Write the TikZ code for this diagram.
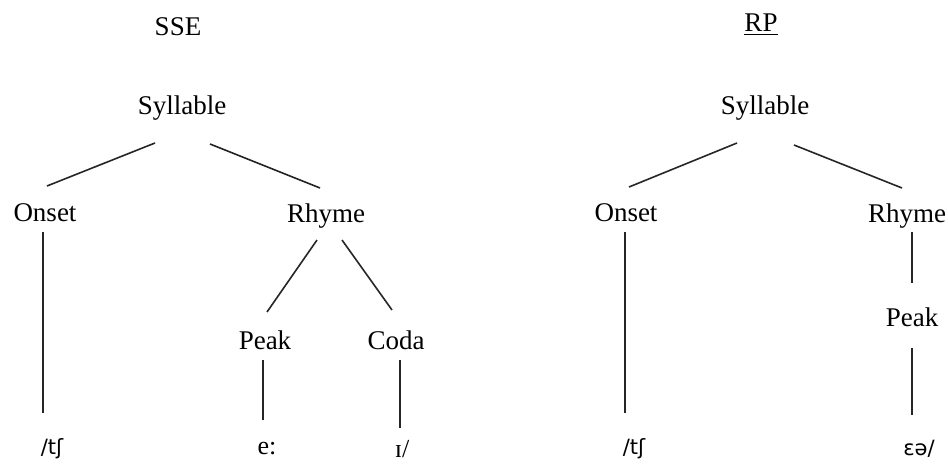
\documentclass[tikz,border=0pt]{standalone}
\usepackage{fontspec}
\setmainfont{Liberation Serif}
\newfontfamily\ipafont{DejaVu Sans}
\begin{document}
\begin{tikzpicture}[x=0.5pt,y=-0.5pt,
  lbl/.style={font=\fontsize{13.5}{15}\selectfont, inner sep=0pt, anchor=center},
  ipa/.style={font=\ipafont\fontsize{10.5}{12}\selectfont, inner sep=0pt, anchor=center},
  ipaser/.style={font=\fontsize{13}{14}\selectfont, inner sep=0pt, anchor=center},
  branch/.style={draw=black!85, line width=0.8pt}]
\useasboundingbox (0,0) rectangle (948,466);
% SSE tree
\node[lbl] (sse) at (178,27) {SSE};
\node[lbl] (sylL) at (182,108) {Syllable};
\node[lbl] (onL) at (45,213) {Onset};
\node[lbl] (rhL) at (326,216) {Rhyme};
\node[lbl] (pkL) at (265,340) {Peak};
\node[lbl] (coL) at (396,340) {Coda};
\node[ipa] (tshL) at (52,449) {/tʃ};
\node[ipaser] (eL) at (267,449) {e:};
\node[ipaser] (rL) at (402,449) {ɪ/};
\draw[branch] ([shift={(-27,35)}]sylL.center) -- ([shift={(2,-27)}]onL.center);
\draw[branch] ([shift={(28,36)}]sylL.center) -- ([shift={(-6,-28)}]rhL.center);
\draw[branch] ([shift={(-2,19)}]onL.center) -- ([shift={(-9,-36)}]tshL.center);
\draw[branch] ([shift={(-9,24)}]rhL.center) -- ([shift={(2,-28)}]pkL.center);
\draw[branch] ([shift={(16,24)}]rhL.center) -- ([shift={(-4,-30)}]coL.center);
\draw[branch] ([shift={(-2,20)}]pkL.center) -- ([shift={(-4,-29)}]eL.center);
\draw[branch] ([shift={(4,20)}]coL.center) -- ([shift={(-2,-21)}]rL.center);
% RP tree
\node[lbl] (rp) at (761,25) {\underline{RP}};
\node[lbl] (sylR) at (765,108) {Syllable};
\node[lbl] (onR) at (626,213) {Onset};
\node[lbl] (rhR) at (907,216) {Rhyme};
\node[lbl] (pkR) at (912,317) {Peak};
\node[ipa] (tshR) at (634,449) {/tʃ};
\node[ipa] (eaR) at (919,449) {ɛə/};
\draw[branch] ([shift={(-28,35)}]sylR.center) -- ([shift={(3,-26)}]onR.center);
\draw[branch] ([shift={(29,37)}]sylR.center) -- ([shift={(-5,-28)}]rhR.center);
\draw[branch] ([shift={(-1,19)}]onR.center) -- ([shift={(-9,-36)}]tshR.center);
\draw[branch] ([shift={(5,16)}]rhR.center) -- ([shift={(0,-34)}]pkR.center);
\draw[branch] ([shift={(0,31)}]pkR.center) -- ([shift={(-7,-34)}]eaR.center);
\end{tikzpicture}
\end{document}
